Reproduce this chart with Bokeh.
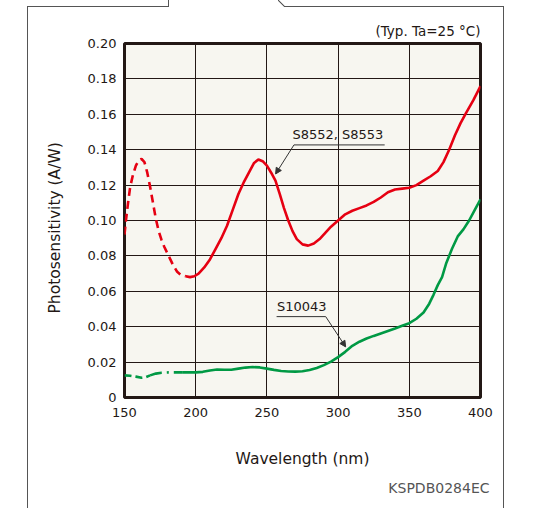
from bokeh.plotting import figure
from bokeh.models import (FixedTicker, Label, Arrow, NormalHead, Range1d, Title)
from bokeh.embed import file_html
from bokeh.resources import INLINE

# ---------------- data ----------------
x_ticks = [150, 200, 250, 300, 350, 400]
y_ticks = [0, 0.02, 0.04, 0.06, 0.08, 0.10, 0.12, 0.14, 0.16, 0.18, 0.20]
y_tick_labels = ["0", "0.02", "0.04", "0.06", "0.08", "0.10", "0.12", "0.14", "0.16", "0.18", "0.20"]

# S8552, S8553 (red) - dashed part
red_dash_wl = [150, 151, 152.5, 154, 156, 158, 160, 162, 164, 166, 168, 170, 172, 174, 176, 178, 181, 184, 187, 190, 193]
red_dash_s = [0.092, 0.100, 0.110, 0.119, 0.126, 0.131, 0.134, 0.1348, 0.133, 0.127, 0.119, 0.110, 0.101, 0.094, 0.089,
              0.085, 0.080, 0.075, 0.071, 0.069, 0.0685]
# S8552, S8553 (red) - solid part
red_wl = [193, 196, 199, 202, 206, 210, 214, 218, 222, 226, 230, 234, 238, 241, 244, 247, 250, 253, 256, 259, 262, 265,
          268, 271, 275, 279, 283, 287, 291, 295, 300, 305, 310, 315, 320, 325, 330, 335, 340, 345, 350, 355, 360, 365,
          370, 374, 378, 382, 386, 390, 395, 400]
red_s = [0.0685, 0.068, 0.0685, 0.070, 0.0735, 0.078, 0.084, 0.090, 0.097, 0.106, 0.115, 0.122, 0.128, 0.1325, 0.1345,
         0.1335, 0.131, 0.127, 0.1225, 0.115, 0.107, 0.100, 0.094, 0.0895, 0.0865, 0.0858, 0.087, 0.0895, 0.093, 0.0965,
         0.100, 0.1035, 0.1055, 0.107, 0.1085, 0.1105, 0.113, 0.116, 0.1175, 0.118, 0.1185, 0.120, 0.1225, 0.125, 0.128,
         0.133, 0.140, 0.148, 0.155, 0.161, 0.168, 0.176]

# S10043 (green)
green_dash_wl = [150, 154, 158, 162, 165, 168]
green_dash_s = [0.0125, 0.0123, 0.0118, 0.0112, 0.0115, 0.0125]
green_dashdot_wl = [168, 172, 176, 181, 186, 191]
green_dashdot_s = [0.0125, 0.0135, 0.014, 0.0142, 0.0142, 0.0142]
green_wl = [191, 196, 200, 205, 210, 215, 220, 225, 230, 235, 240, 245, 250, 255, 260, 265, 270, 275, 280, 285, 290,
            295, 300, 305, 310, 315, 320, 325, 330, 335, 340, 345, 350, 355, 360, 364, 367, 370, 373, 376, 380, 384,
            388, 392, 396, 400]
green_s = [0.0142, 0.0142, 0.0142, 0.0145, 0.0153, 0.0158, 0.0157, 0.0157, 0.0163, 0.0169, 0.0172, 0.017, 0.0163,
           0.0156, 0.015, 0.0147, 0.0146, 0.0148, 0.0155, 0.0167, 0.0183, 0.0203, 0.0228, 0.0258, 0.0292, 0.0315,
           0.0333, 0.0348, 0.0362, 0.0376, 0.039, 0.0405, 0.042, 0.0445, 0.048, 0.053, 0.058, 0.0635, 0.068, 0.076,
           0.084, 0.091, 0.095, 0.100, 0.106, 0.112]

# ---------------- styling ----------------
FONT = "DejaVu Sans"
INK = "#231815"
RED = "#E60012"
GREEN = "#009944"
BOX = "#555555"

# outer datasheet box drawn as CSS background lines behind the (transparent) canvas
box_css = ", ".join([
    f"linear-gradient({BOX},{BOX}) 27px 6px / 1px 502px no-repeat",
    f"linear-gradient({BOX},{BOX}) 27px 6px / 142px 1px no-repeat",
    f"linear-gradient({BOX},{BOX}) 168px 0px / 1px 7px no-repeat",
    f"linear-gradient(to top right, transparent 40%, {BOX} 50%, transparent 60%) 278px 0px / 7px 7px no-repeat",
    f"linear-gradient({BOX},{BOX}) 284px 6px / 220px 1px no-repeat",
    f"linear-gradient({BOX},{BOX}) 503px 6px / 1px 502px no-repeat",
    "white",
])

p = figure(width=534, height=508, x_range=Range1d(150, 400), y_range=Range1d(0, 0.2),
           output_backend="svg", toolbar_location=None,
           min_border_left=124, min_border_right=54, min_border_top=43, min_border_bottom=111,
           styles={"background": box_css})
p.background_fill_color = "#F7F6F0"
p.border_fill_color = None
p.outline_line_color = INK
p.outline_line_width = 3

for ax, ticks in ((p.xaxis, x_ticks), (p.yaxis, y_ticks)):
    ax.ticker = FixedTicker(ticks=ticks)
    ax.axis_line_color = None
    ax.major_tick_line_color = None
    ax.minor_tick_line_color = None
    ax.major_tick_out = 0
    ax.major_tick_in = 0
    ax.major_label_text_font = FONT
    ax.major_label_text_font_size = "13px"
    ax.major_label_text_color = INK

p.yaxis.major_label_standoff = 8
p.xaxis.major_label_standoff = 10
p.yaxis.major_label_overrides = dict(zip(y_ticks, y_tick_labels))

p.xaxis.axis_label = "Wavelength (nm)"
p.xaxis.axis_label_text_font = FONT
p.xaxis.axis_label_text_font_size = "15.5px"
p.xaxis.axis_label_text_font_style = "normal"
p.xaxis.axis_label_text_color = INK
p.xaxis.axis_label_standoff = 30

p.xgrid.ticker = FixedTicker(ticks=x_ticks)
p.ygrid.ticker = FixedTicker(ticks=y_ticks)
for g in (p.xgrid, p.ygrid):
    g.grid_line_color = INK
    g.grid_line_width = 1
    g.grid_line_alpha = 1

# curves
p.line(red_dash_wl, red_dash_s, line_color=RED, line_width=2.6, line_dash="8 5")
p.line(red_wl, red_s, line_color=RED, line_width=2.6)
p.line(green_dash_wl, green_dash_s, line_color=GREEN, line_width=2.6, line_dash="7 4")
p.line(green_dashdot_wl, green_dashdot_s, line_color=GREEN, line_width=2.6, line_dash="12 5 2 5")
p.line(green_wl, green_s, line_color=GREEN, line_width=2.6)

# annotations (labels with underline and leader arrow)
p.segment(x0=[269.0, 256.8], y0=[0.1427, 0.0457], x1=[332.7, 291.3], y1=[0.1427, 0.0457],
          line_color="#333333", line_width=1)
p.add_layout(Arrow(x_start=269.0, y_start=0.1427, x_end=256.1, y_end=0.1263,
                   line_color="#333333", line_width=1,
                   end=NormalHead(size=6, fill_color="#333333", line_color="#333333")))
p.add_layout(Arrow(x_start=291.3, y_start=0.0457, x_end=305.3, y_end=0.0286,
                   line_color="#333333", line_width=1,
                   end=NormalHead(size=6, fill_color="#333333", line_color="#333333")))
p.add_layout(Label(x=267.9, y=0.1427, y_offset=3, text="S8552, S8553", text_font=FONT,
                   text_font_size="13px", text_color=INK, text_baseline="bottom"))
p.add_layout(Label(x=257.1, y=0.0457, y_offset=3, text="S10043", text_font=FONT,
                   text_font_size="13px", text_color=INK, text_baseline="bottom"))

# texts outside the frame as titles in the side panels
p.add_layout(Title(text="(Typ. Ta=25 °C)", align="right", standoff=10, text_font=FONT,
                   text_font_size="13.5px", text_font_style="normal", text_color=INK), "above")
p.add_layout(Title(text="KSPDB0284EC", align="right", offset=-9, standoff=14, text_font=FONT,
                   text_font_size="14px", text_font_style="normal", text_color="#555555"), "below")
p.add_layout(Title(text="Photosensitivity (A/W)", align="left", offset=84, standoff=41, text_font=FONT,
                   text_font_size="15.5px", text_font_style="normal", text_color=INK), "left")

open("out.html", "w").write(file_html(p, INLINE))
